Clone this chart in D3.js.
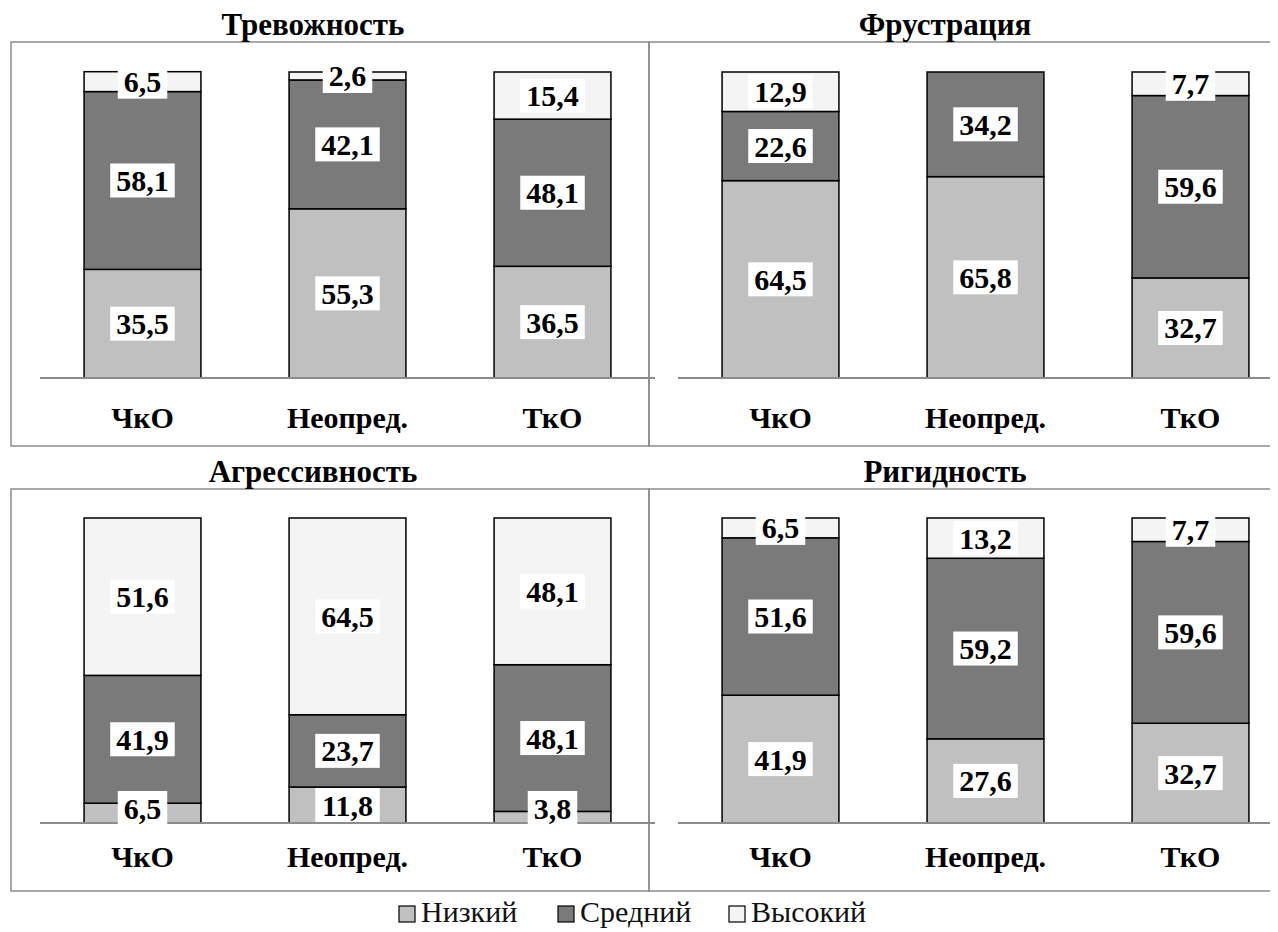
<!DOCTYPE html>
<html>
<head>
<meta charset="utf-8">
<script src="https://cdn.jsdelivr.net/npm/d3@7"></script>
</head>
<body>
<div id="chart"></div>
<script>
var categories = ['ЧкО', 'Неопред.', 'ТкО'];
var levels = ['Низкий', 'Средний', 'Высокий'];
var titles = ['Тревожность', 'Фрустрация', 'Агрессивность', 'Ригидность'];

// values per panel: [low, mid, high] for each category
var anxiety     = [[35.5, 58.1, 6.5], [55.3, 42.1, 2.6], [36.5, 48.1, 15.4]];
var frustration = [[64.5, 22.6, 12.9], [65.8, 34.2, 0], [32.7, 59.6, 7.7]];
var aggression  = [[6.5, 41.9, 51.6], [11.8, 23.7, 64.5], [3.8, 48.1, 48.1]];
var rigidity    = [[41.9, 51.6, 6.5], [27.6, 59.2, 13.2], [32.7, 59.6, 7.7]];

var panelsData = [anxiety, frustration, aggression, rigidity];

var width = 1278, height = 932;
var serif = 'Liberation Serif';

var svg = d3.select('#chart').append('svg')
  .attr('width', width)
  .attr('height', height);

function addText(x, y, str, size, bold, anchor) {
  return svg.append('text')
    .attr('x', x).attr('y', y)
    .attr('text-anchor', anchor || 'start')
    .attr('font-family', serif)
    .attr('font-weight', bold ? 'bold' : 'normal')
    .attr('font-size', size)
    .text(str);
}

var fills = ['#c0c0c0', '#7a7a7a', '#f4f4f4'];

var panels = [
  { x: 3, y: 34, w: 638, h: 404, ax0: 32, ax1: 647, top: 64, base: 370, catY: 420, titleY: 27 },
  { x: 641, y: 34, w: 640, h: 404, ax0: 670, ax1: 1285, top: 64, base: 370, catY: 420, titleY: 27 },
  { x: 3, y: 481, w: 638, h: 402, ax0: 32, ax1: 647, top: 510, base: 815, catY: 859, titleY: 474 },
  { x: 641, y: 481, w: 640, h: 402, ax0: 670, ax1: 1285, top: 510, base: 815, catY: 859, titleY: 474 }
];

var titleX = [305, 937, 305, 937];

var fmt = function(v) { return d3.format('.1f')(v).replace('.', ','); };

var labelWidth = function(s) {
  return s.split('').reduce(function(w, c) { return w + (c === ',' ? 7.5 : 15); }, 0);
};

panels.forEach(function(p, pi) {
  var data = panelsData[pi];
  var g = svg.append('g');

  g.append('rect')
    .attr('x', p.x).attr('y', p.y)
    .attr('width', p.w).attr('height', p.h)
    .attr('fill', 'none')
    .attr('stroke', '#8c8c8c')
    .attr('stroke-width', 1.5);

  var xScale = d3.scaleBand()
    .domain(categories)
    .range([p.ax0, p.ax1])
    .paddingInner(0.43)
    .paddingOuter(0.215);

  var yScale = d3.scaleLinear()
    .domain([0, 100])
    .range([p.base, p.top]);

  var series = d3.stack().keys([0, 1, 2])(data);

  series.forEach(function(s, li) {
    var segs = s.map(function(d, i) { return { lo: d[0], hi: d[1], cat: categories[i] }; })
      .filter(function(d) { return d.hi - d.lo > 0; });
    g.selectAll(null).data(segs).enter().append('rect')
      .attr('x', function(d) { return xScale(d.cat); })
      .attr('y', function(d) { return yScale(d.hi); })
      .attr('width', xScale.bandwidth())
      .attr('height', function(d) { return yScale(d.lo) - yScale(d.hi); })
      .attr('fill', fills[li])
      .attr('stroke', '#000')
      .attr('stroke-width', 1.5);
  });

  g.append('line')
    .attr('x1', p.ax0).attr('x2', p.ax1)
    .attr('y1', p.base).attr('y2', p.base)
    .attr('stroke', '#8c8c8c').attr('stroke-width', 2);

  var labels = [];
  series.forEach(function(s, li) {
    s.forEach(function(d, i) {
      var v = data[i][li];
      if (!v) return;
      var cx = xScale(categories[i]) + xScale.bandwidth() / 2;
      var cy = (yScale(d[0]) + yScale(d[1])) / 2;
      if (cy > p.base - 15) cy = p.base - 15;
      var txt = fmt(v);
      var w = labelWidth(txt) + 12;
      g.append('rect')
        .attr('x', cx - w / 2).attr('y', cy - 17)
        .attr('width', w).attr('height', 34)
        .attr('fill', '#fff');
      labels.push({ x: cx, y: cy + 10.5, t: txt });
    });
  });

  addText(titleX[pi], p.titleY, titles[pi], 31, true, 'middle');
  categories.forEach(function(c) {
    addText(xScale(c) + xScale.bandwidth() / 2, p.catY, c, 30, true, 'middle');
  });
  labels.forEach(function(l) {
    addText(l.x, l.y, l.t, 30, true, 'middle');
  });
});

var legendX = [391, 550, 721];
levels.forEach(function(name, i) {
  svg.append('rect')
    .attr('x', legendX[i]).attr('y', 898)
    .attr('width', 16).attr('height', 16)
    .attr('fill', fills[i])
    .attr('stroke', '#000').attr('stroke-width', 1.2);
  addText(legendX[i] + 22, 914, name, 30, false, 'start').attr('fill', '#111');
});
</script>
</body>
</html>
